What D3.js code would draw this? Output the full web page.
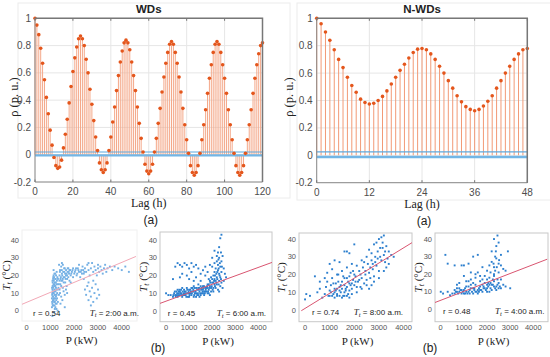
<!DOCTYPE html>
<html>
<head>
<meta charset="utf-8">
<script src="https://cdn.jsdelivr.net/npm/d3@7"></script>
<style>
  body { margin: 0; background: #fff; }
  svg { display: block; }
</style>
</head>
<body>
<div id="app"></div>
<script>
// ---- data ----
// autocorrelation, weekdays, lag 0..120 h
const acfWD = [
  1, 0.95, 0.88, 0.78, 0.67, 0.55, 0.42, 0.30, 0.18, 0.07, -0.02, -0.08,
  -0.10, -0.09, -0.04, 0.05, 0.15, 0.26, 0.38, 0.50, 0.61, 0.71, 0.79, 0.85,
  0.87, 0.85, 0.80, 0.70, 0.60, 0.48, 0.37, 0.25, 0.13, 0.03, -0.06, -0.11,
  -0.13, -0.11, -0.06, 0.03, 0.13, 0.24, 0.35, 0.47, 0.58, 0.68, 0.76, 0.82,
  0.84, 0.82, 0.77, 0.68, 0.58, 0.47, 0.35, 0.23, 0.12, 0.02, -0.07, -0.12,
  -0.14, -0.12, -0.07, 0.02, 0.12, 0.23, 0.34, 0.46, 0.57, 0.67, 0.75, 0.81,
  0.83, 0.81, 0.75, 0.67, 0.57, 0.46, 0.34, 0.22, 0.11, 0.01, -0.08, -0.13,
  -0.15, -0.13, -0.08, 0.01, 0.11, 0.22, 0.33, 0.45, 0.56, 0.66, 0.75, 0.81,
  0.83, 0.81, 0.75, 0.66, 0.56, 0.45, 0.33, 0.22, 0.11, 0.01, -0.08, -0.13,
  -0.15, -0.13, -0.08, 0.01, 0.11, 0.22, 0.33, 0.45, 0.56, 0.66, 0.74, 0.80,
  0.82
];
// autocorrelation, non-weekdays, lag 0..48 h
const acfNWD = [
  1, 0.96, 0.90, 0.84, 0.77, 0.70, 0.64, 0.57, 0.51, 0.46, 0.41, 0.385,
  0.375, 0.38, 0.40, 0.43, 0.47, 0.52, 0.57, 0.62, 0.665, 0.71, 0.75, 0.775,
  0.78, 0.77, 0.74, 0.70, 0.65, 0.60, 0.545, 0.49, 0.435, 0.39, 0.355, 0.335,
  0.325, 0.335, 0.36, 0.395, 0.435, 0.49, 0.545, 0.60, 0.65, 0.70, 0.74, 0.77,
  0.78
];
const boundsWD = [0.02, -0.005];
const boundsNWD = [0.025, -0.012];
const acfYTicks = [-0.2, 0, 0.2, 0.4, 0.6, 0.8, 1];
const lagTicksWD = [0, 20, 40, 60, 80, 100, 120];
const lagTicksNWD = [0, 12, 24, 36, 48];

// scatter: [P (kW), Tt (°C)]
const pts2am = [
  [1060,2],[1080,4],[1100,6],[1120,8],[1140,10],[1160,12],[1180,14],[1090,16],[1110,18],[1130,20],
  [1070,9],[1150,5],[1170,3],[1190,7],[1210,11],[1230,13],[1250,15],[1270,17],[1290,19],[1200,21],
  [1080,12],[1120,13],[1160,15],[1200,9],[1240,6],[1260,4],[1280,10],[1300,12],[1100,11],[1140,17],
  [1180,1],[1220,18],[1130,23],[1260,22],[1060,7],[1090,14],[1110,3],[1150,19],[1230,8],[1310,5],
  [1350,15],[1380,20],[1400,23],[1420,18],[1450,25],[1480,21],[1500,17],[1520,13],[1550,19],[1580,22],
  [1600,24],[1620,16],[1650,20],[1680,14],[1700,18],[1720,22],[1750,19],[1780,21],[1800,17],[1850,20],
  [1400,10],[1450,8],[1500,6],[1420,4],[1380,12],[1550,11],[1600,9],[1480,27],[1520,26],[1360,26],
  [1650,12],[1700,10],[1750,24],[1900,22],[1950,19],[1600,2],[1450,14],[1850,16],[1800,23],[1950,24],
  [2000,21],[2050,23],[2100,20],[2150,24],[2200,22],[2250,19],[2300,23],[2350,25],[2400,21],[2450,24],
  [2500,22],[2550,26],[2600,23],[2650,20],[2700,24],[2750,27],[2800,22],[2850,25],[2900,23],[2950,20],
  [3000,24],[3050,22],[3100,25],[3150,23],[3200,21],[3250,24],[3300,26],[3350,22],[3400,24],[3500,25],
  [3600,23],[3700,25],[3850,24],[4000,23],[4150,25],[4300,22],[2200,26],[2600,27],[3000,26],[2400,18],
  [2450,12],[2500,9],[2550,14],[2600,6],[2650,11],[2700,8],[2750,13],[2800,5],[2850,10],[2900,15],
  [2950,7],[3000,12],[2600,16],[2700,3],[2800,17],[3050,9],
  [1150,-1],[1300,0],[1250,1],[1080,-3],
  [1070,5],[1090,8],[1105,10],[1125,15],[1145,7],[1165,9],[1185,11],[1205,14],[1225,16],[1245,12],
  [1065,13],[1085,17],[1115,19],[1135,6],[1155,14],[1175,16],[1195,18],[1215,4],[1235,20],[1255,9],
  [1075,10],[1095,3],[1165,21],[1185,5],[1205,2],[1275,7],[1295,15],[1315,18],[1335,13],[1355,9],
  [1375,17],[1395,22],[1415,15],[1435,19],[1455,17],[1475,23],[1495,20],[1515,18],[1535,22],[1555,16],
  [1575,24],[1595,19],[1615,21],[1635,18],[1655,23],[1675,21],[1695,20],[1725,24],[1765,22],[1825,23],
  [1875,21],[1925,23],[2025,22],[2075,24],[2125,21],[2175,23],[2275,22],[2325,21],[2375,23],[2425,22]
];
const pts6am = [
  [0,10],[100,9],[200,9],[300,8],[350,10],[400,9],[450,11],[500,8],[550,10],[600,9],
  [650,12],[700,8],[750,10],[800,11],[850,9],[900,13],[950,8],[1000,10],[1050,12],[1100,9],
  [1150,11],[1200,8],[1250,13],[1300,10],[1350,12],[1400,9],[1450,11],[1500,14],[1550,10],[1600,12],
  [1650,9],[1700,13],[1750,11],[1800,15],[1850,12],[1900,14],[1950,11],[2000,16],[2050,13],[2100,15],
  [500,12],[600,11],[700,13],[800,9],[900,10],[1000,12],[1100,13],[1200,11],[1300,8],[1400,13],
  [1500,9],[1600,10],[1700,11],[1800,10],[1900,9],[1000,8],[1200,14],[1400,15],[1600,14],[1800,13],
  [2000,18],[2050,20],[2100,22],[2150,24],[2200,19],[2250,26],[2300,21],[2200,28],[2150,17],[2250,23],
  [2300,30],[2350,25],[2100,27],[2250,33],[2300,36],[2350,41],[2400,43],[2200,31],[2350,19],[2400,22],
  [2000,25],[2100,18],[2200,15],[2300,17],[2400,28],[2500,24],[2450,31],[2350,14],[2050,16],[2150,13],
  [1950,19],[1900,17],[1850,18],[2250,12],[2400,16],[2550,21],[2600,19],[2500,17],[2300,11],[2450,13],
  [400,25],[500,27],[600,26],[700,25],[800,27],[900,26],[1000,24],[1100,27],[1200,25],[1300,26],
  [700,21],[900,20],[1100,22],[1300,19],[1500,21],[1600,23],[1700,20],[1400,24],[1800,22],[1500,17],
  [300,18],[600,19],[1000,18],[1200,17],[1700,25],[1900,26],[2000,30],[2100,34],
  [320,9],[380,11],[420,8],[480,10],[520,9],[580,12],[620,10],[680,9],[720,11],[780,12],
  [820,10],[880,8],[920,12],[980,11],[1020,9],[1080,11],[1120,10],[1180,12],[1220,9],[1280,11],
  [1320,13],[1380,10],[1420,12],[1480,10],[1520,12],[1580,11],[1620,13],[1680,10],[1720,12],[1780,14],
  [1820,11],[1880,13],[1920,16],[1980,14],[2020,12],[2080,17],[2120,14],[2180,16],[2220,18],[2280,15],
  [2320,20],[2380,18],[2420,25],[2180,21],[2280,24],[2120,20],[2220,22],[2330,27],[2270,29],[2380,33],
  [1550,13],[1650,14],[1750,13],[1850,15],[1950,13],[1150,13],[1250,10],[1350,9],[1450,13],[950,10],
  [850,11],[750,9],[650,10],[550,11],[450,9],[1050,10],[1450,8],[1650,11],[1850,10],[2050,11]
];
const pts8am = [
  [0,6],[50,9],[200,8],[400,19],[500,10],[600,12],[700,7],[800,9],[850,13],[900,16],
  [950,8],[1000,11],[1050,14],[1100,18],[1150,9],[1200,12],[1250,15],[1300,8],[1350,20],[1400,13],
  [1450,10],[1500,16],[1550,8],[1600,14],[1650,11],[1700,18],[1750,9],[1800,15],[1850,21],[1900,12],
  [1950,17],[2000,14],[2050,19],[2100,10],[2150,16],[2200,22],[2250,13],[2300,18],[2350,24],[2400,15],
  [2450,20],[2500,17],[2550,26],[2600,21],[2650,18],[2700,28],[2750,23],[2800,19],[2850,30],[2900,25],
  [2950,33],[3000,22],[3050,35],[3100,28],[3150,38],[3200,31],[3250,27],[3300,36],[3350,29],[3400,33],
  [3100,41],[3000,40],[3200,42],[2800,37],[2900,38],[3500,31],[3600,30],[3300,24],[3000,18],[2700,14],
  [1000,8],[1100,8],[1200,7],[1300,9],[1400,8],[1500,7],[1600,8],[1700,8],[1800,7],[1900,9],
  [1200,28],[1400,27],[1600,33],[1700,33],[1800,32],[2000,37],[1000,26],[1300,20],[1500,22],[1700,24],
  [900,21],[800,18],[600,16],[1100,23],[1900,26],[2100,25],[2300,28],[2500,30],[2600,34],[2200,17],
  [1300,12],[1500,12],[1700,13],[1900,15],[2100,13],[2300,12],[2500,14],[2000,20],[1800,19],[1600,18],
  [2400,27],[2700,32],[3200,22],[3400,26],[2600,12],[2800,16],[1200,10],[1400,11],[1600,10],[1800,11],
  [1050,10],[1250,11],[1450,14],[1650,12],[1850,14],[2050,16],[2250,20],[2450,22],[2650,24],[2850,27],
  [3050,30],[3250,33],[3150,35],[2950,29],[2750,26],[1150,15],[1350,16],[1550,19],[1750,16],[1950,22]
];
const pts4am = [
  [0,10],[100,9],[300,10],[500,9],[600,11],[700,10],[800,12],[900,9],[1000,11],[1100,13],
  [1200,10],[1300,12],[1400,9],[1500,14],[1600,11],[1700,13],[1800,10],[1900,15],[2000,12],[2100,14],
  [2200,11],[2300,16],[2400,13],[2500,15],[2600,12],[2700,14],[2800,13],[3000,12],
  [600,9],[800,10],[1000,9],[1200,13],[1400,12],[1600,9],[1800,14],[2000,10],[2200,14],[2400,11],
  [700,12],[900,11],[1100,10],[1300,14],[1500,10],[1700,11],[1900,12],[2100,10],[2300,13],[2500,12],
  [1100,16],[1300,17],[1500,18],[1700,16],[1900,19],[2100,18],[2300,20],[1600,21],[1800,17],[2000,17],
  [2000,22],[2100,25],[2200,27],[2300,24],[2400,29],[2500,26],[2600,31],[2200,33],[2400,36],[2300,40],
  [2450,42],[2600,25],[2700,23],[2500,21],[2350,30],[2150,21],[2900,33],[2500,38],[2800,22],[2300,19],
  [200,31],[300,26],[600,25],[900,25],[1000,25],[1200,26],[1400,30],[1600,31],[1500,20],[1000,19],
  [700,14],[1300,21],[1800,24],[400,8],[1200,16],[1400,15],[800,15],[1700,19],[2000,14],[2600,17],
  [650,10],[750,9],[850,11],[950,10],[1050,12],[1150,9],[1250,11],[1350,10],[1450,12],[1550,10],
  [1650,12],[1750,11],[1850,13],[1950,11],[2050,13],[2150,12],[2250,14],[2350,12],[2450,14],[2550,13],
  [1050,9],[1250,9],[1450,11],[1650,10],[1850,12],[2050,15],[2250,17],[2450,17],[2150,15],[2350,22],
  [2420,24],[2280,26],[2520,28],[2380,33]
];
// regression line end points [P, Tt]
const fit2am = [[-220, 3.5], [4600, 30.7]];
const fit6am = [[-300, 4.1], [4600, 27.4]];
const fit8am = [[-150, -0.4], [4400, 38.4]];
const fit4am = [[-300, 3.6], [4600, 28.5]];
const pTicks = [0, 1000, 2000, 3000, 4000];
const tTicks = [0, 10, 20, 30, 40];

// ---- drawing ----
const sans = '"Liberation Sans", Arial, Helvetica, sans-serif';
const serif = '"Liberation Serif", "Times New Roman", serif';

const svg = d3.select('#app').append('svg')
  .attr('width', 550)
  .attr('height', 357);

const stemChart = cfg => {
  const x = d3.scaleLinear().domain([0, cfg.values.length - 1]).range([cfg.left, cfg.right]);
  const y = d3.scaleLinear().domain([-0.2, 1]).range([cfg.bottom, cfg.top]);
  const g = svg.append('g');

  g.append('rect')
    .attr('x', cfg.panel[0]).attr('y', cfg.panel[1])
    .attr('width', cfg.panel[2]).attr('height', cfg.panel[3])
    .attr('fill', 'none').attr('stroke', '#ececec');

  g.selectAll(null).data(cfg.xTicks).enter().append('line')
    .attr('x1', d => x(d)).attr('x2', d => x(d))
    .attr('y1', cfg.top).attr('y2', cfg.bottom)
    .attr('stroke', '#e6e6e6');
  g.selectAll(null).data(acfYTicks).enter().append('line')
    .attr('x1', cfg.left).attr('x2', cfg.right)
    .attr('y1', d => y(d)).attr('y2', d => y(d))
    .attr('stroke', '#e6e6e6');

  g.selectAll(null).data(cfg.values).enter().append('line')
    .attr('x1', (d, i) => x(i)).attr('x2', (d, i) => x(i))
    .attr('y1', y(0)).attr('y2', d => y(d))
    .attr('stroke', cfg.stem).attr('stroke-width', 1);

  // confidence bounds
  g.append('line')
    .attr('x1', cfg.left).attr('x2', cfg.right)
    .attr('y1', y(cfg.bounds[0])).attr('y2', y(cfg.bounds[0]))
    .attr('stroke', '#5ea9de').attr('stroke-width', 1.1);
  g.append('line')
    .attr('x1', cfg.left).attr('x2', cfg.right)
    .attr('y1', y(cfg.bounds[1])).attr('y2', y(cfg.bounds[1]))
    .attr('stroke', '#72b6e6').attr('stroke-width', 2.4);

  g.selectAll(null).data(cfg.values).enter().append('circle')
    .attr('cx', (d, i) => x(i)).attr('cy', d => y(d))
    .attr('r', 1.8)
    .attr('fill', '#e4561c');

  // axes box
  g.append('path')
    .attr('d', `M${cfg.left},${cfg.top}V${cfg.bottom}H${cfg.right}`)
    .attr('fill', 'none').attr('stroke', '#8c8c8c').attr('stroke-width', 1);
  g.append('path')
    .attr('d', `M${cfg.left},${cfg.top}H${cfg.right}V${cfg.bottom}`)
    .attr('fill', 'none').attr('stroke', '#777').attr('stroke-width', 1.5);
  g.selectAll(null).data(cfg.xTicks).enter().append('path')
    .attr('d', d => `M${x(d)},${cfg.bottom}v-2.5M${x(d)},${cfg.top}v2.5`)
    .attr('stroke', '#777');

  g.selectAll(null).data(cfg.xTicks).enter().append('text')
    .attr('x', d => x(d)).attr('y', cfg.bottom + 13)
    .attr('text-anchor', 'middle')
    .attr('font-family', sans).attr('font-size', 10).attr('fill', '#4d4d4d')
    .text(d => d);
  g.selectAll(null).data(acfYTicks).enter().append('text')
    .attr('x', cfg.left - 4).attr('y', d => y(d) + 3.5)
    .attr('text-anchor', 'end')
    .attr('font-family', sans).attr('font-size', 10).attr('fill', '#4d4d4d')
    .text(d => d);

  const cx = (cfg.left + cfg.right) / 2;
  g.append('text')
    .attr('x', cx).attr('y', cfg.top - 5)
    .attr('text-anchor', 'middle')
    .attr('font-family', sans).attr('font-size', 11.5).attr('font-weight', 'bold').attr('fill', '#222')
    .text(cfg.title);
  g.append('text')
    .attr('x', cx).attr('y', cfg.bottom + 25)
    .attr('text-anchor', 'middle')
    .attr('font-family', serif).attr('font-size', 12).attr('fill', '#222')
    .text('Lag (h)');
  g.append('text')
    .attr('x', cx + 2).attr('y', cfg.bottom + 42)
    .attr('text-anchor', 'middle')
    .attr('font-family', sans).attr('font-size', 12).attr('fill', '#222')
    .text('(a)');
  g.append('text')
    .attr('transform', `translate(${cfg.ylabelX},97) rotate(-90)`)
    .attr('text-anchor', 'middle')
    .attr('font-family', serif).attr('font-size', 12.5).attr('fill', '#222')
    .text('ρ (p. u.)');
};

stemChart({
  values: acfWD, bounds: boundsWD, xTicks: lagTicksWD, title: 'WDs',
  left: 35, right: 262.5, top: 18.3, bottom: 182,
  panel: [18, 3, 272, 195], ylabelX: 18, stem: '#f4a889'
});
stemChart({
  values: acfNWD, bounds: boundsNWD, xTicks: lagTicksNWD, title: 'N-WDs',
  left: 316.7, right: 527.3, top: 18.3, bottom: 182.7,
  panel: [297, 3, 260, 197], ylabelX: 293, stem: '#f29a76'
});

const scatterPanel = cfg => {
  const x = d3.scaleLinear().domain([0, 4000]).range(cfg.xr);
  const y = d3.scaleLinear().domain([0, 40]).range(cfg.yr);
  const [bx0, by0, bx1, by1] = cfg.box;
  const g = svg.append('g');

  g.append('clipPath').attr('id', 'clip' + cfg.id)
    .append('rect')
    .attr('x', bx0).attr('y', by0)
    .attr('width', bx1 - bx0).attr('height', by1 - by0);

  g.append('rect')
    .attr('x', bx0).attr('y', by0)
    .attr('width', bx1 - bx0).attr('height', by1 - by0)
    .attr('fill', 'none').attr('stroke', cfg.frame);

  const inner = g.append('g').attr('clip-path', `url(#clip${cfg.id})`);
  inner.selectAll(null).data(cfg.points).enter().append('rect')
    .attr('x', d => x(d[0]) - 0.9).attr('y', d => y(d[1]) - 0.9)
    .attr('width', 1.9).attr('height', 1.9)
    .attr('fill', cfg.dot);
  inner.append('line')
    .attr('x1', x(cfg.fit[0][0])).attr('y1', y(cfg.fit[0][1]))
    .attr('x2', x(cfg.fit[1][0])).attr('y2', y(cfg.fit[1][1]))
    .attr('stroke', cfg.line).attr('stroke-width', 1);

  g.selectAll(null).data(pTicks).enter().append('text')
    .attr('x', d => x(d)).attr('y', by1 + 8.5)
    .attr('text-anchor', 'middle')
    .attr('font-family', sans).attr('font-size', 7.5).attr('fill', '#555')
    .text(d => d);
  g.selectAll(null).data(tTicks).enter().append('text')
    .attr('x', bx0 - 3).attr('y', d => y(d) + 2.7)
    .attr('text-anchor', 'end')
    .attr('font-family', sans).attr('font-size', 7.5).attr('fill', '#555')
    .text(d => d);

  g.append('text')
    .attr('x', (bx0 + bx1) / 2 + 2).attr('y', by1 + 23)
    .attr('text-anchor', 'middle')
    .attr('font-family', serif).attr('font-size', 11).attr('fill', '#222')
    .text('P (kW)');

  const yl = g.append('text')
    .attr('transform', `translate(${cfg.ylabelX},${(by0 + by1) / 2}) rotate(-90)`)
    .attr('text-anchor', 'middle')
    .attr('font-family', serif).attr('font-size', 11).attr('fill', '#222');
  yl.append('tspan').attr('font-style', 'italic').text('T');
  yl.append('tspan').attr('font-style', 'italic').attr('font-size', 8).attr('dy', 2).text('t');
  yl.append('tspan').attr('dy', -2).text(' (°C)');

  g.append('text')
    .attr('x', x(cfg.rAt)).attr('y', y(0) + 5)
    .attr('font-family', sans).attr('font-size', 8).attr('fill', '#222')
    .text(`r = ${cfg.r}`);
  const tl = g.append('text')
    .attr('x', x(cfg.tAt)).attr('y', y(0) + 5)
    .attr('font-family', sans).attr('font-size', 8).attr('fill', '#222');
  tl.append('tspan').attr('font-family', serif).attr('font-style', 'italic').attr('font-size', 9).text('T');
  tl.append('tspan').attr('font-family', serif).attr('font-style', 'italic').attr('font-size', 6.5).attr('dy', 1.5).text('t');
  tl.append('tspan').attr('dy', -1.5).text(` = ${cfg.time}`);
};

scatterPanel({
  id: 1, points: pts2am, fit: fit2am, r: '0.54', time: '2:00 a.m.',
  xr: [26.7, 121.7], yr: [310.7, 240], box: [22, 230, 137, 321],
  frame: '#f0f0f0', dot: '#74b0e4', line: '#f2a8b6', ylabelX: 10, rAt: 270, tAt: 2650
});
scatterPanel({
  id: 2, points: pts6am, fit: fit6am, r: '0.45', time: '6:00 a.m.',
  xr: [166, 258.3], yr: [311, 240], box: [160, 232, 272, 321.7],
  frame: '#c8c8c8', dot: '#2c7fce', line: '#d95570', ylabelX: 147, rAt: 80, tAt: 2200
});
scatterPanel({
  id: 3, points: pts8am, fit: fit8am, r: '0.74', time: '8:00 a.m.',
  xr: [305, 403.5], yr: [310, 239], box: [299, 233, 412, 321.7],
  frame: '#c8c8c8', dot: '#2c7fce', line: '#d95570', ylabelX: 285, rAt: 280, tAt: 1980
});
scatterPanel({
  id: 4, points: pts4am, fit: fit4am, r: '0.48', time: '4:00 a.m.',
  xr: [440.7, 533.3], yr: [309.3, 239], box: [435, 233, 548, 321.7],
  frame: '#c8c8c8', dot: '#2c7fce', line: '#d95570', ylabelX: 422, rAt: 100, tAt: 2350
});

[[158, '(b)'], [430, '(b)']].forEach(([px, t]) => {
  svg.append('text')
    .attr('x', px).attr('y', 352)
    .attr('text-anchor', 'middle')
    .attr('font-family', sans).attr('font-size', 12).attr('fill', '#222')
    .text(t);
});
</script>
</body>
</html>
